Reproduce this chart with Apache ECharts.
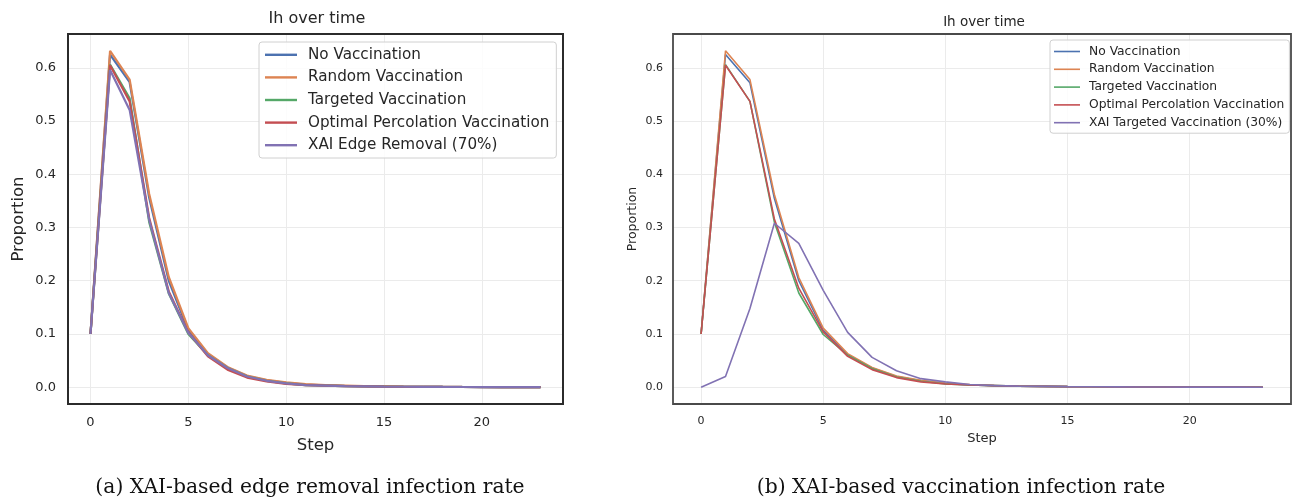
<!DOCTYPE html>
<html>
<head>
<meta charset="utf-8">
<script src="https://cdn.jsdelivr.net/npm/echarts@6/dist/echarts.min.js"></script>
<style>
html,body{margin:0;padding:0;background:#fff;}
#c{width:1296px;height:500px;}
</style>
</head>
<body>
<div id="c"></div>
<script>
// ---- data ----
const steps = [0,1,2,3,4,5,6,7,8,9,10,11,12,13,14,15,16,17,18,19,20,21,22,23];
const xTicks = [0,5,10,15,20];
const yTicks = [0.0,0.1,0.2,0.3,0.4,0.5,0.6];

const leftNames = ['No Vaccination','Random Vaccination','Targeted Vaccination','Optimal Percolation Vaccination','XAI Edge Removal (70%)'];
const rightNames = ['No Vaccination','Random Vaccination','Targeted Vaccination','Optimal Percolation Vaccination','XAI Targeted Vaccination (30%)'];

const leftNo       = [0.100,0.625,0.573,0.356,0.200,0.107,0.062,0.037,0.021,0.013,0.008,0.005,0.0035,0.0025,0.002,0.0015,0.001,0.0008,0.0006,0.0004,0.0003,0.0002,0.0001,0.0001];
const leftRandom   = [0.100,0.632,0.578,0.363,0.207,0.111,0.064,0.038,0.022,0.014,0.009,0.006,0.004,0.003,0.002,0.0015,0.001,0.0008,0.0006,0.0004,0.0003,0.0002,0.0001,0.0001];
const leftTargeted = [0.100,0.606,0.543,0.310,0.176,0.100,0.060,0.036,0.020,0.012,0.007,0.004,0.003,0.002,0.0015,0.001,0.0008,0.0006,0.0004,0.0003,0.0002,0.0001,0.0001,0.0];
const leftOptimal  = [0.100,0.605,0.537,0.318,0.180,0.103,0.058,0.033,0.018,0.011,0.006,0.004,0.003,0.002,0.0015,0.001,0.0008,0.0006,0.0004,0.0003,0.0002,0.0001,0.0001,0.0];
const leftXai      = [0.100,0.596,0.521,0.314,0.177,0.102,0.060,0.036,0.020,0.012,0.007,0.004,0.003,0.002,0.0015,0.001,0.0008,0.0006,0.0004,0.0003,0.0002,0.0001,0.0001,0.0];

const rightNo       = [0.100,0.625,0.572,0.355,0.200,0.107,0.061,0.036,0.020,0.012,0.007,0.004,0.003,0.002,0.0015,0.001,0.0008,0.0006,0.0004,0.0003,0.0002,0.0001,0.0001,0.0];
const rightRandom   = [0.100,0.632,0.578,0.362,0.206,0.111,0.063,0.037,0.021,0.013,0.008,0.005,0.003,0.002,0.0015,0.001,0.0008,0.0006,0.0004,0.0003,0.0002,0.0001,0.0001,0.0];
const rightTargeted = [0.100,0.606,0.537,0.310,0.177,0.099,0.060,0.035,0.019,0.011,0.006,0.004,0.003,0.002,0.0015,0.001,0.0008,0.0006,0.0004,0.0003,0.0002,0.0001,0.0001,0.0];
const rightOptimal  = [0.100,0.605,0.537,0.316,0.186,0.104,0.058,0.033,0.018,0.010,0.006,0.004,0.003,0.002,0.0015,0.001,0.0008,0.0006,0.0004,0.0003,0.0002,0.0001,0.0001,0.0];
const rightXai      = [0.000,0.020,0.148,0.308,0.270,0.182,0.103,0.056,0.031,0.016,0.010,0.005,0.003,0.002,0.0015,0.001,0.0008,0.0006,0.0004,0.0003,0.0002,0.0001,0.0001,0.0];

const colors = ['#4C72B0','#DD8452','#55A868','#C44E52','#8172B3'];
const leftData = [leftNo,leftRandom,leftTargeted,leftOptimal,leftXai];
const rightData = [rightNo,rightRandom,rightTargeted,rightOptimal,rightXai];

const FONT = 'DejaVu Sans';
const TXT = '#262626';

function xAxisFor(gi, fs, nameGap, nameFs){
  return {
    type:'value', gridIndex:gi, min:-1.15, max:24.15, splitNumber:5,
    name:'Step', nameLocation:'middle', nameGap:nameGap,
    nameTextStyle:{fontFamily:FONT,fontSize:nameFs,color:TXT},
    axisLine:{show:false}, axisTick:{show:false},
    axisLabel:{fontFamily:FONT,fontSize:fs,color:TXT,margin:12,showMinLabel:false,showMaxLabel:false,
      formatter:v=> xTicks.includes(v)? String(v):''},
    splitLine:{show:true,showMinLine:false,showMaxLine:false,lineStyle:{color:'#ebebeb',width:1}}
  };
}
function yAxisFor(gi, fs, nameGap, nameFs, margin){
  return {
    type:'value', gridIndex:gi, min:-0.0316, max:0.6636, splitNumber:6,
    name:'Proportion', nameLocation:'middle', nameGap:nameGap, nameRotate:90,
    nameTextStyle:{fontFamily:FONT,fontSize:nameFs,color:TXT},
    axisLine:{show:false}, axisTick:{show:false},
    axisLabel:{fontFamily:FONT,fontSize:fs,color:TXT,margin:margin,showMinLabel:false,showMaxLabel:false,
      formatter:v=>{const r=Math.round(v*10)/10; return yTicks.some(t=>Math.abs(t-v)<1e-9)? r.toFixed(1):'';}},
    splitLine:{show:true,showMinLine:false,showMaxLine:false,lineStyle:{color:'#ebebeb',width:1}}
  };
}

const series = [];
leftNames.forEach((n,i)=>series.push({
  name:n,type:'line',xAxisIndex:0,yAxisIndex:0,showSymbol:false,symbol:'none',
  data:steps.map((s,k)=>[s,leftData[i][k]]),
  lineStyle:{color:colors[i],width:2.2},itemStyle:{color:colors[i]}
}));
rightNames.forEach((n,i)=>series.push({
  name:n,type:'line',xAxisIndex:1,yAxisIndex:1,showSymbol:false,symbol:'none',
  data:steps.map((s,k)=>[s,rightData[i][k]]),
  lineStyle:{color:colors[i],width:1.6},itemStyle:{color:colors[i]}
}));

const chart = echarts.init(document.getElementById('c'),null,{renderer:'canvas'});
chart.setOption({
  backgroundColor:'#ffffff',
  animation:false,
  grid:[
    {left:68,top:34,width:495,height:370,show:true,borderColor:'#2b2b2b',borderWidth:2,backgroundColor:'transparent',z:5},
    {left:673,top:34,width:618,height:370,show:true,borderColor:'#4a4a4a',borderWidth:1.8,backgroundColor:'transparent',z:5}
  ],
  xAxis:[xAxisFor(0,13,33,16.5), xAxisFor(1,11,27.5,13)],
  yAxis:[yAxisFor(0,13,41,16.5,12), yAxisFor(1,11,34,12.5,10)],
  legend:[
    {data:leftNames, orient:'vertical', left:259, top:42, icon:'rect', itemWidth:32, itemHeight:2.4, itemGap:5.6,
     padding:[4.3,7,4.3,6], borderColor:'#d0d0d0', borderWidth:1, borderRadius:3, backgroundColor:'rgba(255,255,255,0.85)',
     textStyle:{fontFamily:FONT,fontSize:15.2,color:TXT,lineHeight:17,padding:[0,0,0,6]}},
    {data:rightNames, orient:'vertical', left:1050, top:40, icon:'rect', itemWidth:26, itemHeight:1.6, itemGap:3.8,
     padding:[4.5,5,3.5,4], borderColor:'#d0d0d0', borderWidth:1, borderRadius:3, backgroundColor:'rgba(255,255,255,0.85)',
     textStyle:{fontFamily:FONT,fontSize:12.3,color:TXT,lineHeight:14,padding:[0,0,0,4]}}
  ],
  graphic:[
    {type:'text',x:317,y:19,style:{text:'Ih over time',fontFamily:FONT,fontSize:16,fill:TXT,align:'center',verticalAlign:'middle'}},
    {type:'text',x:984,y:22,style:{text:'Ih over time',fontFamily:FONT,fontSize:13.5,fill:TXT,align:'center',verticalAlign:'middle'}},
    {type:'text',x:310,y:488,style:{text:'(a) XAI-based edge removal infection rate',fontFamily:'DejaVu Serif',fontSize:20.3,fill:'#111',align:'center',verticalAlign:'middle'}},
    {type:'text',x:961,y:488,style:{text:'(b) XAI-based vaccination infection rate',fontFamily:'DejaVu Serif',fontSize:20.3,fill:'#111',align:'center',verticalAlign:'middle'}}
  ],
  series:series
});
</script>
</body>
</html>
